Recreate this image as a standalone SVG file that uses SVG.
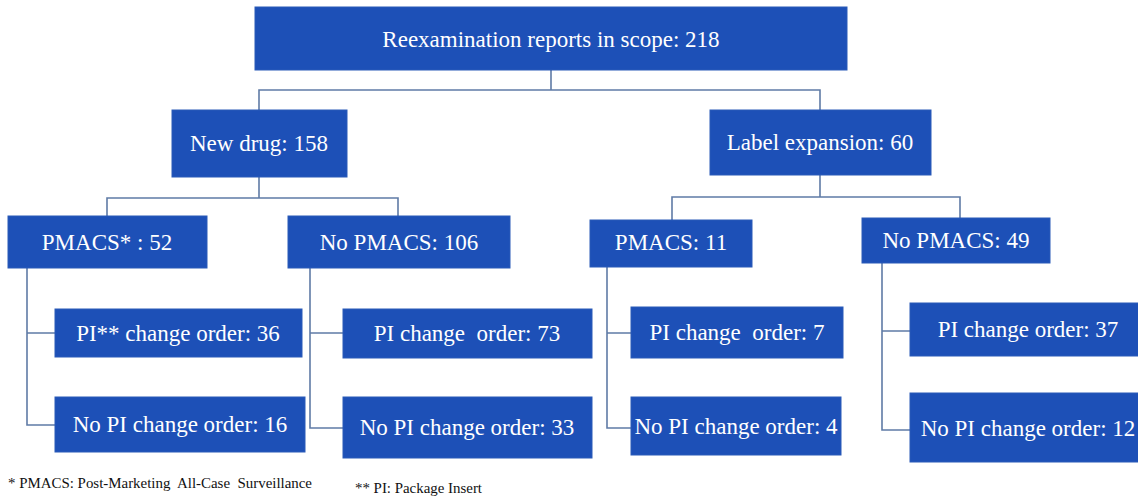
<svg xmlns="http://www.w3.org/2000/svg" width="1138" height="498" viewBox="0 0 1138 498">
<style>
.box{fill:#1d50b7;stroke:#2a5bb8;stroke-width:1}
.t{font-family:"Liberation Serif","Times New Roman",serif;font-size:23px;fill:#ffffff;text-anchor:middle;dominant-baseline:central}
.c{fill:none;stroke:#5f7ba6;stroke-width:1.6}
.f{font-family:"Liberation Serif","Times New Roman",serif;font-size:14px;fill:#111111}
</style>
<rect width="1138" height="498" fill="#ffffff"/>
<g id="connectors">
<path class="c" d="M551 70V90M259 110V90H820V110"/>
<path class="c" d="M259 177V198M107 216V198H398V216"/>
<path class="c" d="M820 175V197M672 220V197H960V218"/>
<path class="c" d="M27 268V425H55M27 333H55"/>
<path class="c" d="M310 268V428H343M310 333H343"/>
<path class="c" d="M607 267V428H631M607 333H631"/>
<path class="c" d="M882 263V430H910M882 331H910"/>
</g>
<g id="root"><rect class="box" x="255" y="7" width="592" height="63"/><text class="t" x="551" y="39">Reexamination reports in scope: 218</text></g>
<g id="newdrug"><rect class="box" x="172" y="110" width="175" height="67"/><text class="t" x="259" y="143">New drug: 158</text></g>
<g id="labelexp"><rect class="box" x="710" y="110" width="221" height="65"/><text class="t" x="820" y="142">Label expansion: 60</text></g>
<g id="pmacs52"><rect class="box" x="8" y="216" width="199" height="52"/><text class="t" x="107" y="242">PMACS* : 52</text></g>
<g id="nopmacs106"><rect class="box" x="288" y="216" width="222" height="52"/><text class="t" x="399" y="242">No PMACS: 106</text></g>
<g id="pmacs11"><rect class="box" x="590" y="220" width="162" height="47"/><text class="t" x="671" y="242">PMACS: 11</text></g>
<g id="nopmacs49"><rect class="box" x="862" y="218" width="188" height="45"/><text class="t" x="956" y="240">No PMACS: 49</text></g>
<g id="pi36"><rect class="box" x="55" y="309" width="247" height="48"/><text class="t" x="178" y="333">PI** change order: 36</text></g>
<g id="nopi16"><rect class="box" x="55" y="397" width="250" height="55"/><text class="t" x="180" y="424">No PI change order: 16</text></g>
<g id="pi73"><rect class="box" x="343" y="309" width="249" height="49"/><text class="t" x="467" y="333" xml:space="preserve">PI change  order: 73</text></g>
<g id="nopi33"><rect class="box" x="343" y="397" width="249" height="61"/><text class="t" x="467" y="427">No PI change order: 33</text></g>
<g id="pi7"><rect class="box" x="631" y="307" width="212" height="51"/><text class="t" x="737" y="332" xml:space="preserve">PI change  order: 7</text></g>
<g id="nopi4"><rect class="box" x="631" y="397" width="210" height="58"/><text class="t" x="736" y="426">No PI change order: 4</text></g>
<g id="pi37"><rect class="box" x="910" y="303" width="230" height="53"/><text class="t" x="1028" y="329">PI change order: 37</text></g>
<g id="nopi12"><rect class="box" x="910" y="393" width="230" height="69"/><text class="t" x="1028" y="428">No PI change order: 12</text></g>
<g id="footnotes">
<text class="f" x="8" y="488" textLength="304" lengthAdjust="spacingAndGlyphs" xml:space="preserve">* PMACS: Post-Marketing  All-Case  Surveillance</text>
<text class="f" x="355" y="493" textLength="127" lengthAdjust="spacingAndGlyphs">** PI: Package Insert</text>
</g>
</svg>
